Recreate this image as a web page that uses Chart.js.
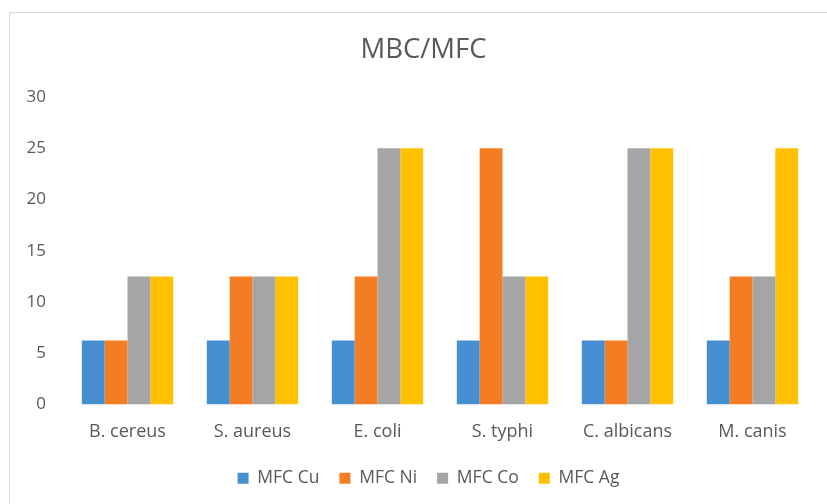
<!DOCTYPE html>
<html>
<head>
<meta charset="utf-8">
<script src="https://cdn.jsdelivr.net/npm/chart.js@4/dist/chart.umd.min.js"></script>
<style>
  html, body { margin: 0; padding: 0; background: #fff; }
  #wrap { position: relative; width: 827px; height: 504px; overflow: hidden; }
  #frame { position: absolute; left: 9px; top: 12px; width: 900px; height: 600px; border: 1px solid #d9d9d9; box-sizing: border-box; }
  #chartBox { position: absolute; left: 0; top: 0; width: 827px; height: 504px; }
</style>
</head>
<body>
<div id="wrap">
  <div id="frame"></div>
  <div id="chartBox"><canvas id="barChart"></canvas></div>
</div>
<script>
const organisms = ['B. cereus', 'S. aureus', 'E. coli', 'S. typhi', 'C. albicans', 'M. canis'];
const mfcCu = [6.25, 6.25, 6.25, 6.25, 6.25, 6.25];
const mfcNi = [6.25, 12.5, 12.5, 25, 6.25, 12.5];
const mfcCo = [12.5, 12.5, 25, 12.5, 25, 12.5];
const mfcAg = [12.5, 12.5, 25, 12.5, 25, 25];

const fontFamily = '"Open Sans", Lato, sans-serif';
const textColor = '#595959';

// nudge title and legend a little to the right after layout
const shiftBlocks = {
    id: 'shiftBlocks',
    afterLayout(chart) {
        if (chart.titleBlock) { chart.titleBlock.left += 6; chart.titleBlock.right += 6; }
        if (chart.legend) { chart.legend.left += 11; chart.legend.right += 11; }
    }
};

let element = document.getElementById("barChart");

const myChart = new Chart(element, {
    type: 'bar',
    data: {
        labels: organisms,
        datasets: [
            { label: 'MFC Cu', data: mfcCu, backgroundColor: '#4690d1' },
            { label: 'MFC Ni', data: mfcNi, backgroundColor: '#f47d23' },
            { label: 'MFC Co', data: mfcCo, backgroundColor: '#a5a5a5' },
            { label: 'MFC Ag', data: mfcAg, backgroundColor: '#ffc000' }
        ]
    },
    plugins: [shiftBlocks],
    options: {
        responsive: true,
        maintainAspectRatio: false,
        animation: false,
        layout: { padding: { left: 20, right: 12, top: 0, bottom: 7 } },
        datasets: {
            bar: { barPercentage: 1, categoryPercentage: 0.731 }
        },
        plugins: {
            title: {
                display: true,
                text: 'MBC/MFC',
                color: textColor,
                font: { family: fontFamily, size: 27.5, weight: 'normal' },
                padding: { top: 34, bottom: 30 }
            },
            legend: {
                position: 'bottom',
                labels: {
                    color: textColor,
                    font: { family: fontFamily, size: 17.5 },
                    boxWidth: 11,
                    boxHeight: 11,
                    padding: 20
                }
            },
            tooltip: { enabled: false }
        },
        scales: {
            x: {
                grid: { display: false, drawTicks: false },
                border: { display: false },
                ticks: {
                    color: textColor,
                    font: { family: fontFamily, size: 18 },
                    padding: 17
                },
                afterFit: function(scale) { scale.height = 45; }
            },
            y: {
                min: 0,
                max: 30,
                grid: { display: false, drawTicks: false },
                border: { display: false },
                ticks: {
                    stepSize: 5,
                    color: textColor,
                    font: { family: fontFamily, size: 17 },
                    padding: 19
                },
                afterFit: function(scale) { scale.width = 45; }
            }
        }
    }
});
</script>
</body>
</html>
